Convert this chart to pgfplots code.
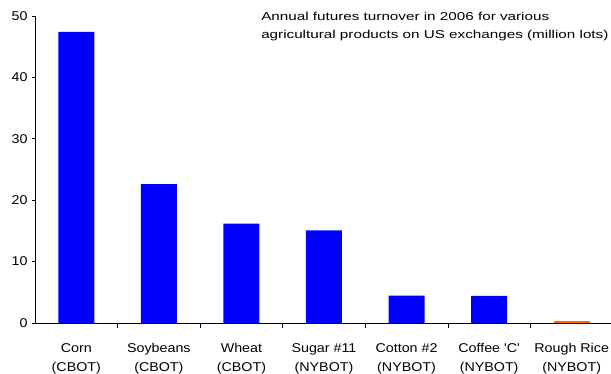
\documentclass[border=0pt]{standalone}
\usepackage{pgfplots}
\pgfplotsset{compat=1.18}
\usepackage{fontspec}
\newfontfamily\chartfont{Liberation Sans}[FakeStretch=1.12]
\newfontfamily\titlefont{Liberation Sans}[FakeStretch=1.33]
\definecolor{barblue}{RGB}{0,0,255}
\definecolor{barorange}{RGB}{255,102,0}
\newcommand{\cf}{\chartfont\fontsize{12.8}{19}\selectfont}
\newcommand{\tf}{\titlefont\fontsize{11.5}{17.5}\selectfont}
\begin{document}
\begin{tikzpicture}
\useasboundingbox (-35bp,-51bp) rectangle (576bp,323bp);
\begin{axis}[
  scale only axis,
  width=578bp, height=307bp,
  xmin=-0.5, xmax=6.5,
  ymin=0, ymax=50,
  axis x line*=bottom, axis y line*=left,
  axis line style={black, line width=0.6pt, -},
  ytick={0,10,...,50},
  xtick={0,...,6},
  xticklabels={{Corn\\(CBOT)},{Soybeans\\(CBOT)},{Wheat\\(CBOT)},{Sugar \#11\\(NYBOT)},{Cotton \#2\\(NYBOT)},{Coffee 'C'\\(NYBOT)},{Rough Rice\\(NYBOT)}},
  minor xtick={0.5,1.5,...,5.5},
  major x tick style={draw=none},
  tick align=outside,
  major tick length=3bp,
  minor tick length=5bp,
  tick style={black, line width=0.6pt},
  /pgf/number format/assume math mode=true,
  ticklabel style={font=\cf},
  xticklabel style={align=center, anchor=base, yshift=-45bp},
  yticklabel style={xshift=-1bp},
  ybar, bar width=36bp, bar shift=0pt,
  clip=false,
]
\addplot[draw=none, fill=barblue] coordinates {
  (0,47.4) (1,22.6) (2,16.2) (3,15.1) (4,4.45) (5,4.4)
};
\addplot[draw=none, fill=barorange] coordinates {
  (6,0.3)
};
\node[anchor=base west, align=left, inner sep=0pt, font=\tf] at (axis description cs:0.3911,0.9275)
  {Annual futures turnover in 2006 for various\\agricultural products on US exchanges (million lots)};
\end{axis}
\end{tikzpicture}
\end{document}
